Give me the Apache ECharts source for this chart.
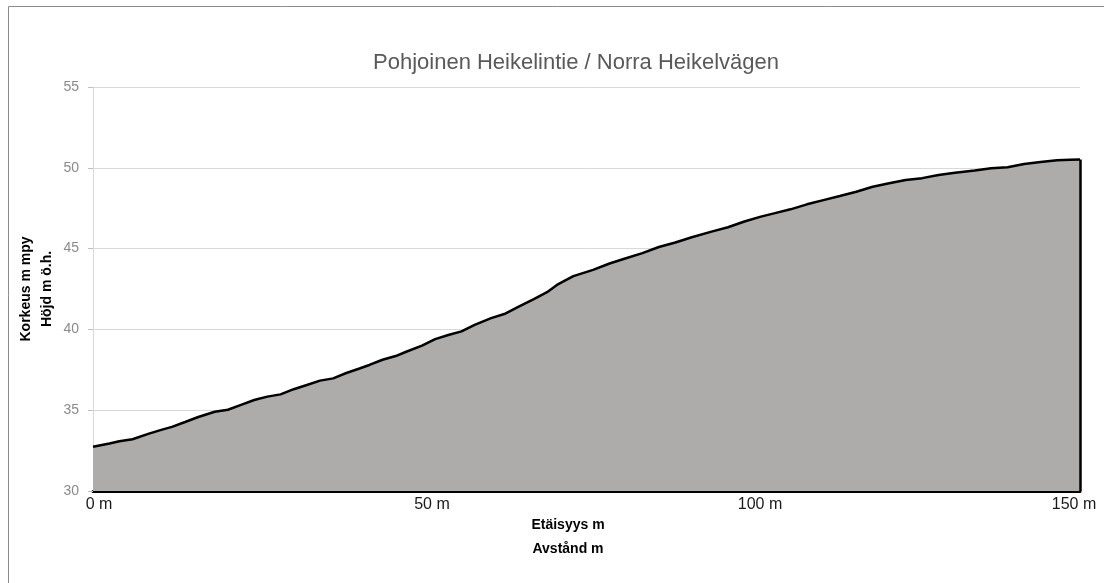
<!DOCTYPE html>
<html>
<head>
<meta charset="utf-8">
<script src="https://cdn.jsdelivr.net/npm/echarts@6/dist/echarts.min.js"></script>
<style>
html,body{margin:0;padding:0;background:#fff;}
#chart{width:1104px;height:583px;}
</style>
</head>
<body>
<div id="chart"></div>
<script>
const chartTitle = 'Pohjoinen Heikelintie / Norra Heikelvägen';
const xAxisTitle = 'Etäisyys m\nAvstånd m';
const yAxisTitle = 'Korkeus m mpy\nHöjd m ö.h.';
const distances = [0, 2.5, 4, 6, 8.5, 10.5, 12, 14, 16, 18.5, 20.5, 22.5, 24.5, 26.5, 28.5, 30.5, 32.5, 34.5, 36.5, 38.5, 40.5, 42, 44, 46, 47.5, 50, 52, 54, 56, 58, 60.5, 62.5, 65, 67, 69, 70.5, 73, 76, 78.5, 81, 83.5, 86, 88.5, 91, 94, 96.5, 99, 101.5, 103.5, 106, 108.5, 111, 113.5, 116, 118.5, 121, 123.5, 126, 128.5, 131, 134, 136.5, 139, 141.5, 144, 146.5, 148.5, 150];
const heights = [32.74, 32.94, 33.08, 33.2, 33.55, 33.8, 33.97, 34.27, 34.58, 34.9, 35.03, 35.33, 35.63, 35.84, 35.98, 36.3, 36.56, 36.83, 36.97, 37.3, 37.58, 37.8, 38.12, 38.35, 38.6, 39.0, 39.4, 39.65, 39.88, 40.28, 40.7, 40.95, 41.47, 41.88, 42.3, 42.75, 43.3, 43.68, 44.08, 44.4, 44.72, 45.1, 45.38, 45.7, 46.05, 46.32, 46.68, 46.98, 47.18, 47.43, 47.74, 48.0, 48.25, 48.52, 48.83, 49.04, 49.24, 49.36, 49.55, 49.7, 49.83, 49.97, 50.03, 50.24, 50.36, 50.47, 50.5, 50.52];
const xTicks = [0, 50, 100, 150];
const yTicks = [30, 35, 40, 45, 50, 55];

const FONT = 'Liberation Sans';
const profile = distances.map((d, i) => [d, heights[i]]);
const lastX = distances[distances.length - 1];
const lastY = heights[heights.length - 1];

// per-label horizontal nudges (layout only)
const labelRich = {
  l0: {padding: [0, 0, 0, 12]},
  l1: {padding: [0, 0, 0, 20]},
  l2: {padding: [0, 0, 0, 18]},
  l3: {padding: [0, 12, 0, 0]}
};

const chart = echarts.init(document.getElementById('chart'), null, {renderer: 'canvas'});
chart.setOption({
  animation: false,
  backgroundColor: '#ffffff',
  title: {
    text: chartTitle,
    left: 571,
    top: 47,
    textAlign: 'center',
    textStyle: {fontFamily: FONT, fontSize: 22, fontWeight: 'normal', color: '#595959'}
  },
  graphic: [{
    type: 'rect',
    shape: {x: 8.5, y: 6.5, width: 1200, height: 700},
    style: {fill: null, stroke: '#8c8c8c', lineWidth: 1},
    silent: true,
    z: -1
  }],
  grid: {left: 93, right: 24, top: 87, bottom: 92, containLabel: false, outerBoundsMode: 'none'},
  xAxis: {
    type: 'value',
    min: xTicks[0],
    max: xTicks[xTicks.length - 1],
    interval: 50,
    name: xAxisTitle,
    nameLocation: 'middle',
    nameGap: 22,
    nameMoveOverlap: false,
    nameTextStyle: {fontFamily: FONT, fontSize: 14, fontWeight: 'bold', color: '#000', lineHeight: 24, padding: [0, 37, 0, 0]},
    axisLine: {show: true, onZero: false, lineStyle: {color: '#000', width: 3}},
    axisTick: {show: false},
    splitLine: {show: false},
    axisLabel: {
      margin: 6,
      fontFamily: FONT, fontSize: 16, color: '#1a1a1a',
      formatter: v => {
        const i = xTicks.indexOf(v);
        return '{l' + i + '|' + v + ' m}';
      },
      rich: Object.fromEntries(Object.entries(labelRich).map(([k, s]) => [k, Object.assign({fontFamily: FONT, fontSize: 16, color: '#1a1a1a'}, s)]))
    }
  },
  yAxis: {
    type: 'value',
    min: yTicks[0],
    max: yTicks[yTicks.length - 1],
    interval: 5,
    name: yAxisTitle,
    nameLocation: 'middle',
    nameGap: 35,
    nameMoveOverlap: false,
    nameRotate: 90,
    nameTextStyle: {fontFamily: FONT, fontSize: 14, fontWeight: 'bold', color: '#000', lineHeight: 21},
    axisLine: {show: true, lineStyle: {color: '#d9d9d9', width: 1}},
    axisTick: {show: true, length: 5, lineStyle: {color: '#bfbfbf'}},
    splitLine: {show: true, lineStyle: {color: '#d9d9d9', width: 1}},
    axisLabel: {margin: 14, fontFamily: FONT, fontSize: 14, color: '#8a8a8a'}
  },
  series: [{
    type: 'line',
    data: profile,
    showSymbol: false,
    symbol: 'none',
    smooth: false,
    lineStyle: {color: '#000', width: 2.5},
    areaStyle: {color: '#aeabab', opacity: 1, origin: 'start'},
    z: 3,
    markLine: {
      silent: true,
      symbol: ['none', 'none'],
      label: {show: false},
      lineStyle: {color: '#000', width: 2.5, type: 'solid'},
      data: [[{coord: [lastX, yTicks[0]]}, {coord: [lastX, lastY]}]]
    }
  }]
});
</script>
</body>
</html>
